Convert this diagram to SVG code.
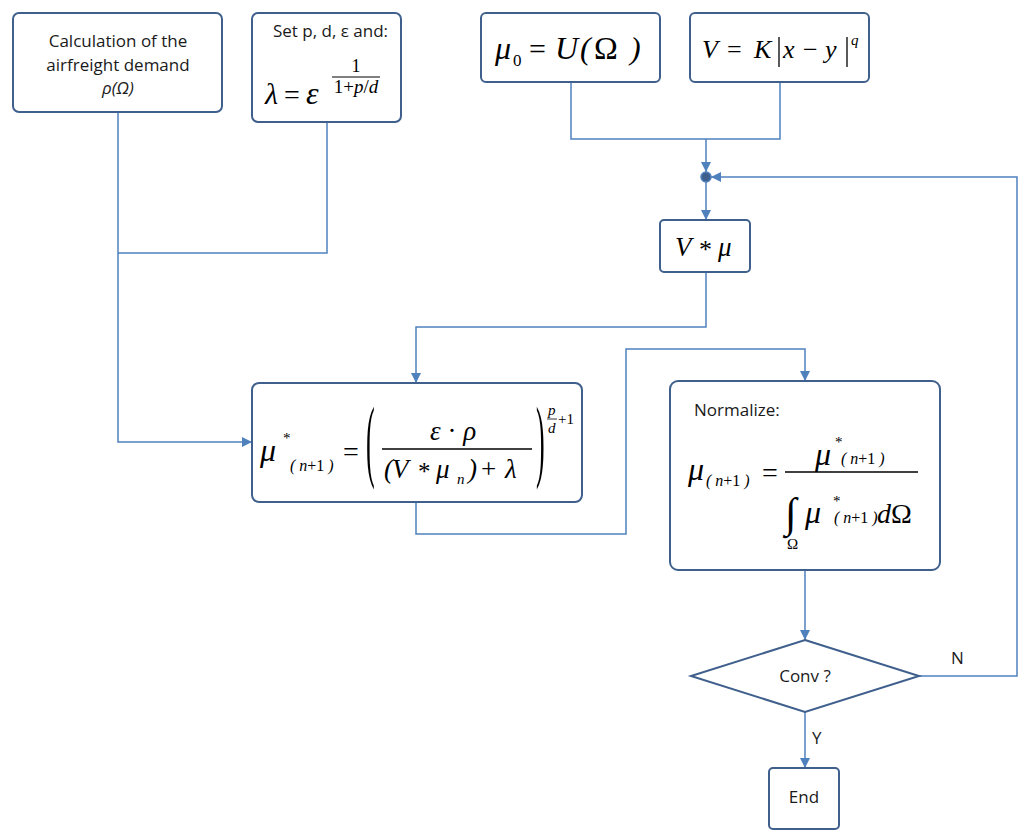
<svg xmlns="http://www.w3.org/2000/svg" width="1024" height="835" viewBox="0 0 1024 835">
<style>
.node{fill:#fff;stroke:#3f5f8c;stroke-width:2}
.conn{fill:none;stroke:#4f81bd;stroke-width:1.5}
.t{font-family:"Open Sans","Noto Sans",sans-serif;font-size:17px;fill:#1a1a1a}
.m{font-family:"Liberation Serif","Times New Roman",serif;font-style:italic;fill:#000}
.r{font-style:normal}
</style>
<defs>
<marker id="ah" viewBox="0 0 10 10" refX="10" refY="5" markerWidth="10" markerHeight="10" markerUnits="userSpaceOnUse" orient="auto">
<path d="M0,0 L10,5 L0,10 z" fill="#4f81bd"/>
</marker>
</defs>
<rect width="1024" height="835" fill="#fff"/>
<g id="connectors">
<path class="conn" d="M571,82 V139 H780 V82"/>
<path class="conn" d="M706,139 V172" marker-end="url(#ah)"/>
<path class="conn" d="M706,182 V220" marker-end="url(#ah)"/>
<path class="conn" d="M706,272 V327 H416 V383" marker-end="url(#ah)"/>
<path class="conn" d="M118,112 V442 H252" marker-end="url(#ah)"/>
<path class="conn" d="M327,122 V253 H118"/>
<path class="conn" d="M416,502 V534 H626 V349 H805 V381" marker-end="url(#ah)"/>
<path class="conn" d="M805,570 V640" marker-end="url(#ah)"/>
<path class="conn" d="M919,676 H1017 V177 H711" marker-end="url(#ah)"/>
<path class="conn" d="M805,712 V768" marker-end="url(#ah)"/>
<circle cx="706" cy="177" r="5" fill="#3f5f8c" stroke="#4f81bd" stroke-width="1.5"/>
<text class="t" x="951" y="664">N</text>
<text class="t" x="812" y="744">Y</text>
</g>
<g id="demand">
<rect class="node" x="13" y="13" width="209" height="99" rx="6"/>
<text class="t" text-anchor="middle" x="118" y="47">Calculation of the</text>
<text class="t" text-anchor="middle" x="118" y="71">airfreight demand</text>
<text class="t" text-anchor="middle" x="118" y="94" font-style="italic">ρ(Ω)</text>
</g>
<g id="params">
<rect class="node" x="252" y="13" width="149" height="109" rx="6"/>
<text class="t" x="273" y="37">Set p, d, ε and:</text>
<text class="m" x="265" y="104" font-size="30">λ</text>
<text class="m r" x="284" y="104" font-size="28">=</text>
<text class="m" x="306" y="104" font-size="32">ε</text>
<text class="m r" x="356" y="72" font-size="18" text-anchor="middle">1</text>
<line x1="332" y1="77" x2="380" y2="77" stroke="#000" stroke-width="1"/>
<text class="m" x="356" y="93" font-size="19" text-anchor="middle"><tspan class="r">1+</tspan>p<tspan class="r">/</tspan>d</text>
</g>
<g id="mu0">
<rect class="node" x="481" y="13" width="179" height="69" rx="5"/>
<text class="m" x="495" y="59" font-size="32">μ</text>
<text class="m r" x="513" y="66" font-size="17">0</text>
<text class="m r" x="529" y="59" font-size="30">=</text>
<text class="m" x="555" y="59" font-size="32">U</text>
<text class="m" x="580" y="59" font-size="32">(</text>
<text class="m r" x="594" y="59" font-size="32">Ω</text>
<text class="m" x="630" y="59" font-size="32">)</text>
</g>
<g id="kernel">
<rect class="node" x="690" y="13" width="179" height="69" rx="5"/>
<text class="m" x="702" y="58" font-size="26">V</text>
<text class="m r" x="727" y="58" font-size="26">=</text>
<text class="m" x="754" y="58" font-size="26">K</text>
<line x1="779" y1="37" x2="779" y2="67" stroke="#000" stroke-width="1.3"/>
<text class="m" x="783" y="58" font-size="26">x</text>
<text class="m r" x="803" y="58" font-size="26">−</text>
<text class="m" x="825" y="58" font-size="26">y</text>
<line x1="847" y1="37" x2="847" y2="67" stroke="#000" stroke-width="1.3"/>
<text class="m" x="851" y="45" font-size="15">q</text>
</g>
<g id="conv">
<rect class="node" x="660" y="220" width="90" height="52" rx="4"/>
<text class="m" x="675" y="256" font-size="27">V</text>
<text class="m r" x="699" y="258" font-size="26">*</text>
<text class="m" x="718" y="256" font-size="27">μ</text>
</g>
<g id="update">
<rect class="node" x="252" y="383" width="330" height="119" rx="7"/>
<text class="m" x="260" y="461" font-size="32">μ</text>
<text class="m r" x="283" y="443" font-size="15">*</text>
<text class="m" x="290" y="471" font-size="16"><tspan>(</tspan> n<tspan class="r">+1</tspan> )</text>
<text class="m r" x="343" y="461" font-size="28">=</text>
<text class="m r" x="366" y="452" font-size="26" transform="translate(366 445) scale(1 3.5) translate(-366 -445)">(</text>
<text class="m r" x="536" y="452" font-size="26" transform="translate(536 445) scale(1 3.5) translate(-536 -445)">)</text>
<text class="m" x="430" y="440" font-size="27">ε <tspan class="r">·</tspan> ρ</text>
<line x1="382" y1="449" x2="532" y2="449" stroke="#000" stroke-width="1.3"/>
<text class="m" x="384" y="478" font-size="27">(</text>
<text class="m" x="392" y="478" font-size="27">V</text>
<text class="m r" x="418" y="480" font-size="25">*</text>
<text class="m" x="436" y="478" font-size="27">μ</text>
<text class="m" x="457" y="484" font-size="15">n</text>
<text class="m" x="468" y="478" font-size="27">)</text>
<text class="m r" x="481" y="478" font-size="27">+</text>
<text class="m" x="505" y="478" font-size="27">λ</text>
<text class="m" x="548" y="415" font-size="15">p</text>
<line x1="547" y1="419" x2="557" y2="419" stroke="#000" stroke-width="0.8"/>
<text class="m" x="548" y="433" font-size="15">d</text>
<text class="m r" x="558" y="424" font-size="15">+1</text>
</g>
<g id="normalize">
<rect class="node" x="670" y="381" width="270" height="189" rx="8"/>
<text class="t" x="694" y="416">Normalize:</text>
<text class="m" x="688" y="480" font-size="32">μ</text>
<text class="m" x="706" y="486" font-size="16">( n<tspan class="r">+1</tspan> )</text>
<text class="m r" x="762" y="482" font-size="28">=</text>
<text class="m" x="815" y="465" font-size="32">μ</text>
<text class="m r" x="835" y="447" font-size="15">*</text>
<text class="m" x="841" y="464" font-size="16">( n<tspan class="r">+1</tspan> )</text>
<line x1="785" y1="472" x2="918" y2="472" stroke="#000" stroke-width="1.3"/>
<text class="m r" x="785" y="527" font-size="42">∫</text>
<text class="m r" x="787" y="549" font-size="15">Ω</text>
<text class="m" x="805" y="523" font-size="32">μ</text>
<text class="m r" x="833" y="506" font-size="15">*</text>
<text class="m" x="834" y="523" font-size="16">( n<tspan class="r">+1</tspan> )</text>
<text class="m" x="877" y="523" font-size="28">d<tspan class="r">Ω</tspan></text>
</g>
<g id="decision">
<polygon class="node" points="805,640 919,676 805,712 691,676"/>
<text class="t" text-anchor="middle" x="805" y="682">Conv ?</text>
</g>
<g id="end">
<rect class="node" x="769" y="768" width="70" height="61" rx="4"/>
<text class="t" text-anchor="middle" x="804" y="803">End</text>
</g>
</svg>
